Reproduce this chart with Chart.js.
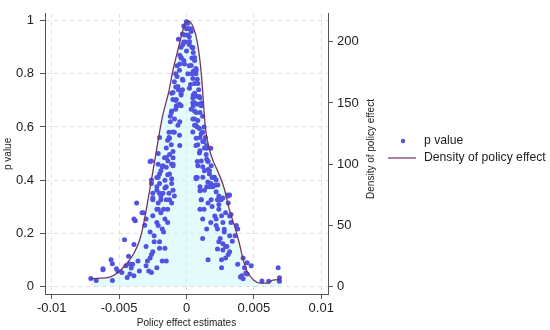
<!DOCTYPE html>
<html>
<head>
<meta charset="utf-8">
<script src="https://cdn.jsdelivr.net/npm/chart.js@4/dist/chart.umd.min.js"></script>
<style>
  body { margin: 0; background: #fff; }
  #wrap { width: 550px; height: 330px; }
</style>
</head>
<body>
<div id="wrap"><canvas id="chart" width="550" height="330"></canvas></div>
<script>
// p value scatter (policy effect estimate, p value)
const estimates = [
  -0.0071,-0.0067,-0.0062,-0.0062,-0.0056,-0.0055,-0.0055,-0.0052,-0.0051,-0.0048,
  -0.0046,-0.0045,-0.0044,-0.0043,-0.0042,-0.0042,-0.0041,-0.0040,-0.0039,-0.0039,
  -0.0039,-0.0038,-0.0037,-0.0036,-0.0035,-0.0033,-0.0032,-0.0031,-0.0030,-0.0030,
  -0.0030,-0.0029,-0.0028,-0.0027,-0.0027,-0.0027,-0.0026,-0.0026,-0.0026,-0.0026,
  -0.0025,-0.0025,-0.0025,-0.0025,-0.0024,-0.0024,-0.0022,-0.0022,-0.0022,-0.0022,
  -0.0022,-0.0021,-0.0021,-0.0021,-0.0021,-0.0020,-0.0020,-0.0020,-0.0020,-0.0020,
  -0.0019,-0.0019,-0.0018,-0.0018,-0.0018,-0.0017,-0.0017,-0.0016,-0.0016,-0.0016,
  -0.0015,-0.0015,-0.0015,-0.0015,-0.0014,-0.0014,-0.0014,-0.0014,-0.0013,-0.0013,
  -0.0013,-0.0012,-0.0012,-0.0011,-0.0011,-0.0011,-0.0011,-0.0011,-0.0010,-0.0010,
  -0.0010,-0.0009,-0.0009,-0.0009,-0.0008,-0.0008,-0.0008,-0.0008,-0.0007,-0.0007,
  -0.0007,-0.0006,-0.0006,-0.0005,-0.0005,-0.0005,-0.0005,-0.0004,-0.0004,-0.0004,
  -0.0004,-0.0003,-0.0003,-0.0003,-0.0002,-0.0002,-0.0002,-0.0001,0.0000,0.0000,
  0.0001,0.0001,0.0002,0.0002,0.0002,0.0003,0.0003,0.0004,0.0004,0.0004,
  0.0005,0.0005,0.0005,0.0005,0.0006,0.0006,0.0006,0.0006,0.0007,0.0007,
  0.0007,0.0007,0.0007,0.0008,0.0008,0.0008,0.0008,0.0008,0.0009,0.0010,
  0.0010,0.0010,0.0010,0.0010,0.0010,0.0010,0.0011,0.0011,0.0011,0.0012,
  0.0012,0.0012,0.0012,0.0012,0.0013,0.0013,0.0013,0.0014,0.0015,0.0015,
  0.0015,0.0015,0.0015,0.0016,0.0016,0.0016,0.0016,0.0017,0.0017,0.0018,
  0.0018,0.0018,0.0019,0.0019,0.0020,0.0021,0.0021,0.0022,0.0022,0.0022,
  0.0023,0.0023,0.0023,0.0024,0.0024,0.0024,0.0024,0.0025,0.0026,0.0026,
  0.0026,0.0027,0.0027,0.0027,0.0027,0.0028,0.0028,0.0029,0.0029,0.0029,
  0.0030,0.0031,0.0031,0.0031,0.0032,0.0032,0.0032,0.0032,0.0033,0.0033,
  0.0034,0.0036,0.0037,0.0038,0.0038,0.0040,0.0041,0.0042,0.0042,0.0043,
  0.0044,0.0045,0.0045,0.0048,0.0056,0.0061,0.0068,0.0069,0.0069,
  // left band, middle
  -0.00101,-0.00076,-0.00113,-0.00089,-0.00064,-0.00101,-0.00052,-0.00126,-0.00113,-0.0015,
  -0.0010,-0.00126,-0.00163,-0.00138,-0.0026,-0.0021,-0.00175,-0.0010,-0.0019,-0.00126,
  -0.0021,-0.0016,-0.0011,-0.0020,-0.0015,-0.0022,-0.00175,-0.0010,-0.0025,-0.0019,
  -0.00126,
  // right band, middle
  0.00047,0.0006,0.00035,0.00072,0.00047,0.00084,0.0006,0.00096,0.00047,0.00109,
  0.00072,0.00121,0.00084,0.00133,0.00096,0.00146,0.00109,0.00158,0.00084,0.00183,
  0.00133,0.0017,0.00121,0.00207,0.00072,0.00158,0.00195,0.00232,0.00133,0.0022,
  0.00109,0.00183,0.00257,0.00306,
  // top
  0.0000,0.0001,-0.00015,0.00035,0.00022,-0.00027,0.00047,0.0000,-0.0004,0.0006,
  -0.00015,0.00035,-0.00052,0.00072,0.0001,-0.00027,0.00047,0.00084,-0.00064,0.00022,
  -0.0004,0.0006,0.00096,-0.00076,0.00047,-0.00052,0.00084
]
const pValues = [
  0.029,0.022,0.066,0.062,0.100,0.085,0.022,0.066,0.058,0.052,
  0.175,0.077,0.033,0.113,0.084,0.046,0.069,0.083,0.157,0.040,
  0.253,0.247,0.314,0.095,0.058,0.277,0.277,0.230,0.150,0.253,
  0.077,0.095,0.058,0.204,0.470,0.107,0.120,0.400,0.387,0.052,
  0.350,0.266,0.326,0.130,0.168,0.190,0.240,0.070,0.410,0.290,
  0.375,0.290,0.500,0.229,0.314,0.143,0.560,0.168,0.350,0.423,
  0.340,0.277,0.216,0.095,0.450,0.204,0.290,0.370,0.253,0.143,
  0.485,0.095,0.326,0.448,0.290,0.420,0.240,0.550,0.560,0.580,
  0.350,0.640,0.620,0.727,0.387,0.314,0.460,0.660,0.460,0.484,
  0.730,0.340,0.580,0.770,0.667,0.750,0.800,0.700,0.790,0.830,
  0.680,0.930,0.740,0.530,0.837,0.870,0.620,0.860,0.680,0.900,
  0.720,0.740,0.950,0.780,0.980,0.850,0.920,0.920,0.970,0.996,
  0.990,0.946,0.910,0.940,0.830,0.970,0.760,0.860,0.900,0.800,
  0.810,0.880,0.720,0.680,0.764,0.850,0.630,0.660,0.800,0.820,
  0.606,0.530,0.410,0.715,0.780,0.470,0.410,0.600,0.740,0.654,
  0.510,0.360,0.375,0.290,0.710,0.560,0.690,0.326,0.680,0.580,
  0.450,0.253,0.180,0.640,0.545,0.290,0.600,0.560,0.520,0.478,
  0.375,0.216,0.530,0.470,0.314,0.100,0.440,0.435,0.375,0.520,
  0.387,0.240,0.410,0.300,0.410,0.380,0.265,0.400,0.253,0.229,
  0.326,0.216,0.140,0.308,0.168,0.340,0.290,0.180,0.266,0.070,
  0.100,0.332,0.240,0.137,0.160,0.204,0.215,0.277,0.150,0.107,
  0.150,0.314,0.120,0.340,0.344,0.265,0.130,0.190,0.240,0.270,
  0.170,0.190,0.229,0.216,0.083,0.035,0.040,0.107,0.028,0.070,
  0.050,0.089,0.046,0.077,0.020,0.019,0.070,0.032,0.019,
  // left band, middle
  0.703,0.679,0.654,0.630,0.606,0.581,0.569,0.557,0.533,0.521,
  0.508,0.496,0.484,0.472,0.472,0.460,0.454,0.454,0.435,0.423,
  0.411,0.399,0.405,0.387,0.375,0.362,0.350,0.362,0.332,0.326,
  0.326,
  // right band, middle
  0.709,0.691,0.667,0.654,0.630,0.624,0.606,0.594,0.581,0.575,
  0.557,0.545,0.533,0.521,0.502,0.496,0.472,0.472,0.454,0.454,
  0.435,0.423,0.411,0.411,0.405,0.393,0.375,0.381,0.362,0.356,
  0.326,0.326,0.326,0.344,
  // top
  0.995,0.971,0.946,0.959,0.922,0.910,0.898,0.886,0.861,0.861,
  0.837,0.831,0.813,0.813,0.800,0.776,0.782,0.764,0.752,0.746,
  0.727,0.727,0.715,0.703,0.691,0.685,0.685
]

// kernel density of the estimates
const densX = [-0.0071,-0.0066,-0.0057,-0.0051,-0.0044,-0.0039,-0.0035,-0.0032,-0.0029,-0.0024,
  -0.0018,-0.0013,-0.0010,-0.0006,-0.0002,0.0000,0.0002,0.0005,0.0008,0.0011,
  0.0014,0.0017,0.0020,0.0024,0.0028,0.0032,0.0036,0.0039,0.0042,0.0045,
  0.0050,0.0055,0.0060,0.0064,0.0070]
const densY = [6,6.5,7.5,11,19,27,37,50,68,100,
  138,160,177,195,212,216,217,212,200,174,
  130,112,102,92,80,62,48,36,22,12,
  5,2.5,2.5,5,5.5]

const xTicks = [-0.01, -0.005, 0, 0.005, 0.01]
const pTicks = [0, 0.2, 0.4, 0.6, 0.8, 1]
const densTicks = [0, 50, 100, 150, 200]

const labelScatter = 'p value'
const labelDensity = 'Density of policy effect'
const xTitle = 'Policy effect estimates'

const font = '"Liberation Sans", Arial, sans-serif'
const dotColor = '#5252e2'
const lineColor = '#74365e'

const scatterPts = estimates.map((x, i) => ({x: x, y: pValues[i]}))
const densPts = densX.map((x, i) => ({x: x, y: densY[i]}))

const extras = {
  id: 'extras',
  afterDraw(chart) {
    const ctx = chart.ctx
    ctx.save()
    ctx.fillStyle = '#222'
    ctx.font = '10px ' + font
    ctx.textAlign = 'center'
    ctx.textBaseline = 'middle'
    ctx.translate(371, 149)
    ctx.rotate(-Math.PI / 2)
    ctx.fillText(labelDensity, 0, 0)
    ctx.restore()

    // legend
    ctx.save()
    ctx.fillStyle = dotColor
    ctx.beginPath()
    ctx.arc(403, 141, 2.2, 0, Math.PI * 2)
    ctx.fill()
    ctx.strokeStyle = lineColor
    ctx.lineWidth = 1.2
    ctx.beginPath()
    ctx.moveTo(388, 158)
    ctx.lineTo(416, 158)
    ctx.stroke()
    ctx.fillStyle = '#222'
    ctx.font = '12.2px ' + font
    ctx.textAlign = 'left'
    ctx.textBaseline = 'middle'
    ctx.fillText(labelScatter, 424, 141)
    ctx.fillText(labelDensity, 424, 158)
    ctx.restore()
  }
}

function setTicks(list) {
  return function(scale) { scale.ticks = list.map(v => ({value: v})) }
}

const tickFont = {family: font, size: 13}

new Chart(document.getElementById('chart'), {
  data: {
    datasets: [{
      type: 'line',
      label: labelDensity,
      data: densPts,
      yAxisID: 'y2',
      borderColor: lineColor,
      borderWidth: 1.3,
      pointRadius: 0,
      cubicInterpolationMode: 'monotone',
      fill: {target: 'origin', above: 'rgba(205,248,248,0.55)'},
      order: 1
    }, {
      type: 'scatter',
      label: labelScatter,
      data: scatterPts,
      yAxisID: 'y',
      backgroundColor: dotColor,
      borderWidth: 0,
      pointRadius: 2.5,
      order: 2
    }]
  },
  options: {
    responsive: false,
    animation: false,
    devicePixelRatio: 1,
    layout: {padding: {top: 5, left: 0, right: 0, bottom: 0}},
    plugins: {
      legend: {display: false},
      tooltip: {enabled: false},
      filler: {drawTime: 'beforeDatasetsDraw'}
    },
    scales: {
      x: {
        type: 'linear',
        min: -0.0105,
        max: 0.0105,
        afterBuildTicks: setTicks(xTicks),
        afterFit(scale) { scale.height = 36 },
        ticks: {
          font: tickFont, color: '#222', padding: 2, maxRotation: 0,
          callback: v => String(+v.toFixed(3))
        },
        grid: {color: '#dedede', tickColor: '#555', tickLength: 5, tickBorderDash: []},
        border: {color: '#555', width: 1, dash: [4, 4]},
        title: {display: true, text: xTitle, font: {family: font, size: 10}, color: '#222', padding: {top: 0, bottom: 1}}
      },
      y: {
        type: 'linear',
        position: 'left',
        min: -0.029,
        max: 1.026,
        afterBuildTicks: setTicks(pTicks),
        afterFit(scale) { scale.width = 45 },
        ticks: {font: tickFont, color: '#222', padding: 6, callback: v => String(+v.toFixed(1))},
        grid: {color: '#dedede', tickColor: '#555', tickLength: 5, tickBorderDash: []},
        border: {color: '#555', width: 1, dash: [4, 4]},
        title: {display: true, text: labelScatter, font: {family: font, size: 10}, color: '#222', padding: {top: 2, bottom: 0}}
      },
      y2: {
        type: 'linear',
        position: 'right',
        min: -6.35,
        max: 223,
        afterBuildTicks: setTicks(densTicks),
        afterFit(scale) { scale.width = 222 },
        ticks: {font: tickFont, color: '#222', padding: 4},
        grid: {drawOnChartArea: false, tickColor: '#555', tickLength: 5},
        border: {color: '#555', width: 1}
      }
    }
  },
  plugins: [extras]
})
</script>
</body>
</html>
